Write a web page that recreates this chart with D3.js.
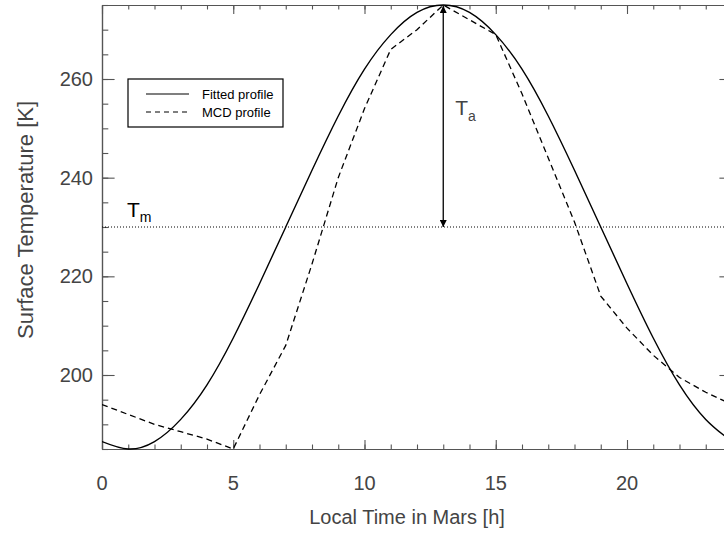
<!DOCTYPE html>
<html>
<head>
<meta charset="utf-8">
<script src="https://cdn.jsdelivr.net/npm/d3@7"></script>
<style>
body { margin: 0; background: #fff; }
svg { display: block; font-family: "Liberation Sans", Arial, sans-serif; }
</style>
</head>
<body>
<div id="chart"></div>
<script>

// hours of the martian day
var hours = [0,1,2,3,4,5,6,7,8,9,10,11,12,13,14,15,16,17,18,19,20,21,22,23,24];

// fitted (sinusoidal) surface temperature
var fitted = [186.5,185,186.5,191,198,207.5,218.5,230,241.5,252.5,262,269,273.5,275,
              273.5,269,262,252.5,241.5,230,218.5,207.5,198,191,186.5];

// MCD profile
var mcd = [194,192,190,188.5,187,185,196,206,222.5,240,254,266,270,275,
           272,269,257,244,231,216,209.5,204,199.5,196.5,194];

var xTicks = [0,5,10,15,20];
var yTicks = [200,220,240,260];
var tMean = 230;
var tPeakHour = 13;
var tPeak = 275;

var width = 724, height = 533;
var plotLeft = 102, plotTop = 5, plotRight = 732, plotBottom = 449;

var svg = d3.select("#chart").append("svg")
	.attr("width", width)
	.attr("height", height);

var x = d3.scaleLinear().domain([0, 24]).range([plotLeft, plotRight]);
var y = d3.scaleLinear().domain([185, 275]).range([plotBottom, plotTop]);

var axisColor = "#555";
var labelColor = "#444";

var defs = svg.append("defs");

//clip everything inside the frame
defs.append("clipPath").attr("id", "plotclip")
	.append("rect")
	.attr("x", plotLeft).attr("y", plotTop - 2)
	.attr("width", plotRight - plotLeft).attr("height", plotBottom - plotTop + 4);

defs.append("marker")
	.attr("id", "arrowhead")
	.attr("viewBox", "0 0 10 10")
	.attr("refX", 10).attr("refY", 5)
	.attr("markerWidth", 8).attr("markerHeight", 7)
	.attr("markerUnits", "userSpaceOnUse")
	.attr("orient", "auto-start-reverse")
	.append("path")
	.attr("d", "M0,0 L10,5 L0,10 z")
	.style("fill", "#000");

//axes: major ticks, minor ticks, all pointing inwards
var xMinor = d3.range(0, 25, 1);
var yMinor = d3.range(185, 276, 5);

function frame(g, scale, side, major, minor, len) {
	g.append("g").call(side(scale).tickValues(minor).tickSize(len / 2).tickSizeOuter(0).tickFormat(""));
	g.append("g").call(side(scale).tickValues(major).tickSize(len).tickSizeOuter(0).tickFormat(""));
}

frame(svg.append("g").attr("transform", "translate(0," + plotBottom + ")"), x, d3.axisTop, xTicks, xMinor, 9);
frame(svg.append("g").attr("transform", "translate(0," + plotTop + ")"), x, d3.axisBottom, xTicks, xMinor, 9);
frame(svg.append("g").attr("transform", "translate(" + plotLeft + ",0)"), y, d3.axisRight, yTicks, yMinor, 12.6);
frame(svg.append("g").attr("transform", "translate(" + plotRight + ",0)"), y, d3.axisLeft, yTicks, yMinor, 12.6);

svg.selectAll(".domain").style("stroke", axisColor).style("stroke-width", 1.2);
svg.selectAll(".tick line").style("stroke", axisColor).style("stroke-width", 1.1);

//tick labels
svg.append("g").selectAll("text").data(xTicks).enter().append("text")
	.attr("x", function(d){ return x(d); })
	.attr("y", plotBottom + 41)
	.attr("text-anchor", "middle")
	.style("font-size", "20px")
	.style("fill", labelColor)
	.text(function(d){ return d; });

svg.append("g").selectAll("text").data(yTicks).enter().append("text")
	.attr("x", plotLeft - 9)
	.attr("y", function(d){ return y(d) + 7; })
	.attr("text-anchor", "end")
	.style("font-size", "20px")
	.style("fill", labelColor)
	.text(function(d){ return d; });

//axis titles
svg.append("text")
	.attr("x", 407)
	.attr("y", 524)
	.attr("text-anchor", "middle")
	.style("font-size", "20px")
	.style("fill", labelColor)
	.text("Local Time in Mars [h]");

svg.append("text")
	.attr("transform", "translate(33,220) rotate(-90)")
	.attr("text-anchor", "middle")
	.style("font-size", "22px")
	.style("fill", labelColor)
	.text("Surface Temperature [K]");

var plot = svg.append("g").attr("clip-path", "url(#plotclip)");

//mean temperature, dotted
plot.append("line")
	.attr("x1", plotLeft).attr("x2", plotRight)
	.attr("y1", y(tMean)).attr("y2", y(tMean))
	.style("stroke", "#000")
	.style("stroke-width", 1)
	.style("stroke-dasharray", "1,2");

var line = d3.line()
	.x(function(d, i){ return x(hours[i]); })
	.y(function(d){ return y(d); });

plot.append("path")
	.attr("d", line.curve(d3.curveNatural)(fitted))
	.style("fill", "none")
	.style("stroke", "#000")
	.style("stroke-width", 1.4);

plot.append("path")
	.attr("d", line.curve(d3.curveLinear)(mcd))
	.style("fill", "none")
	.style("stroke", "#000")
	.style("stroke-width", 1.3)
	.style("stroke-dasharray", "6,4");

//amplitude arrow
svg.append("line")
	.attr("x1", x(tPeakHour)).attr("x2", x(tPeakHour))
	.attr("y1", y(tPeak) + 1).attr("y2", y(tMean))
	.style("stroke", "#000")
	.style("stroke-width", 1.3)
	.attr("marker-start", "url(#arrowhead)")
	.attr("marker-end", "url(#arrowhead)");

var ta = svg.append("text")
	.attr("x", x(tPeakHour) + 12)
	.attr("y", 115)
	.style("font-size", "21px")
	.style("fill", labelColor)
	.text("T");
ta.append("tspan").attr("dy", 6).style("font-size", "14px").text("a");

var tm = svg.append("text")
	.attr("x", 127)
	.attr("y", 217)
	.style("font-size", "21px")
	.style("fill", "#000")
	.text("T");
tm.append("tspan").attr("dy", 5).style("font-size", "14px").text("m");

//legend
var lg = svg.append("g").attr("transform", "translate(128,79)");
lg.append("rect")
	.attr("width", 155).attr("height", 48)
	.style("fill", "#fff")
	.style("stroke", "#000")
	.style("stroke-width", 1.2);

var legendItems = ["Fitted profile", "MCD profile"];
var legendDash = [null, "5,4"];

lg.selectAll(".item").data(legendItems).enter().append("g")
	.attr("class", "item")
	.attr("transform", function(d, i){ return "translate(0," + (15 + i * 18) + ")"; })
	.each(function(d, i){
		var g = d3.select(this);
		g.append("line")
			.attr("x1", 18).attr("x2", 61)
			.style("stroke", "#000")
			.style("stroke-width", 1.2)
			.style("stroke-dasharray", legendDash[i]);
		g.append("text")
			.attr("x", 74).attr("y", 5)
			.style("font-size", "13px")
			.style("fill", "#000")
			.text(d);
	});

</script>
</body>
</html>
